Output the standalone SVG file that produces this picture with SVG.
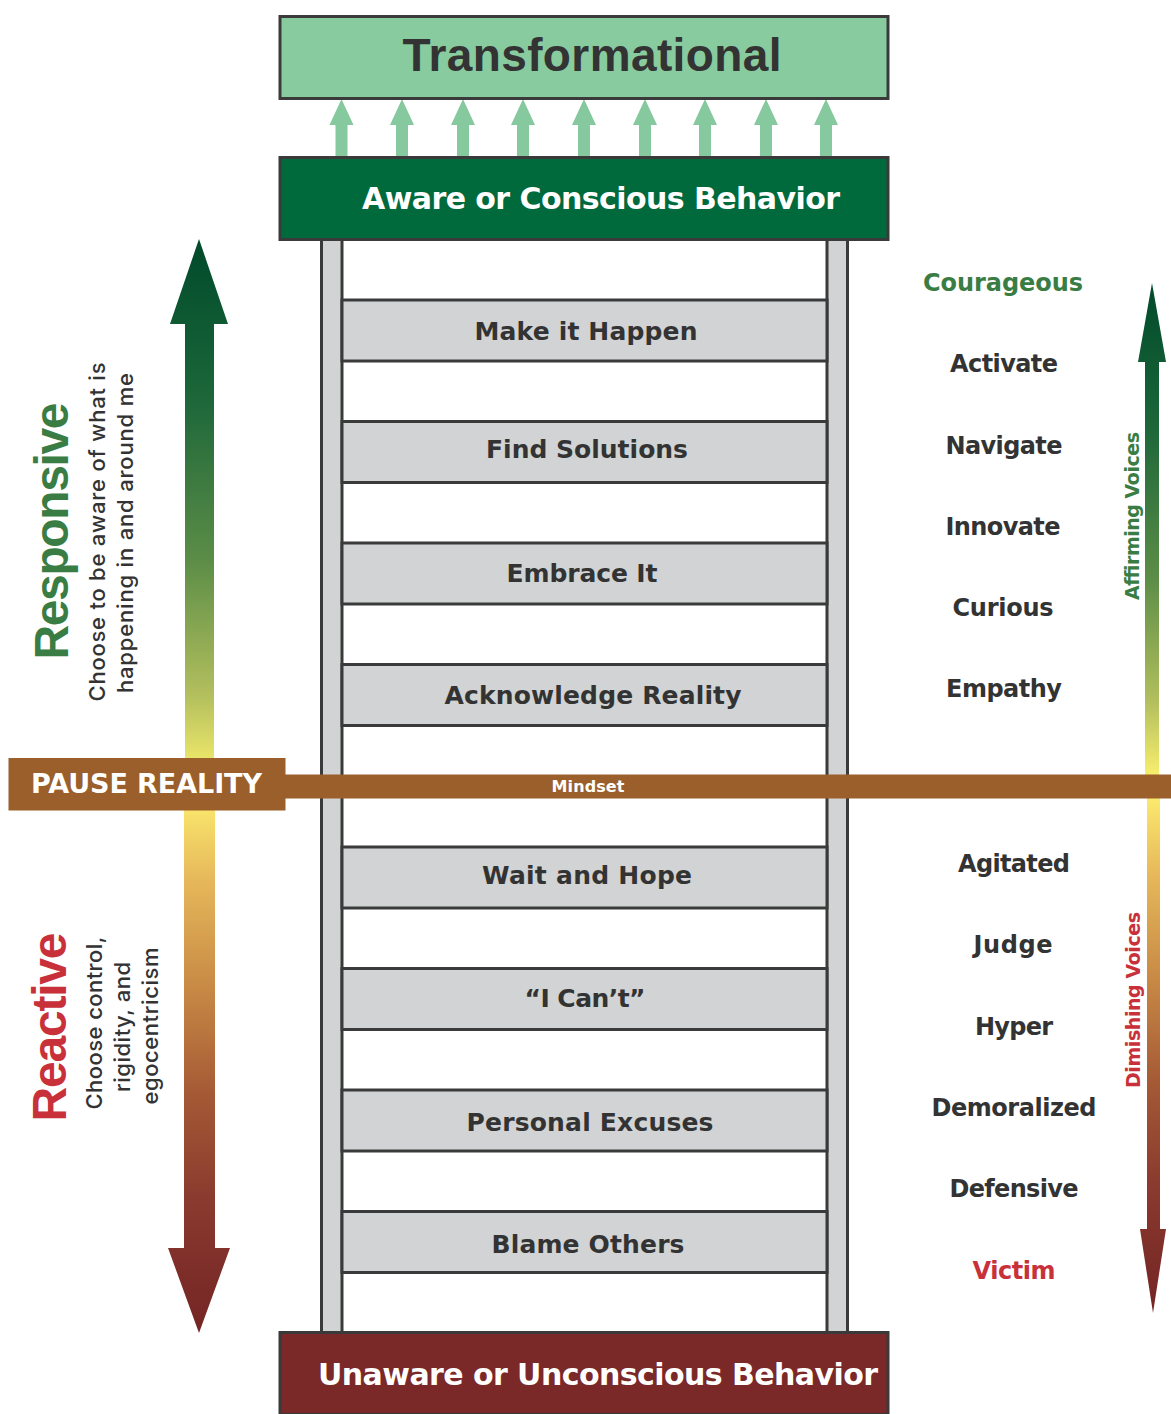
<svg xmlns="http://www.w3.org/2000/svg" width="1171" height="1414" viewBox="0 0 1171 1414">
<style>
.box{stroke:#3a3a3a;stroke-width:3}
.rail{fill:#d1d3d4;stroke:#3a3a3a;stroke-width:3}
.rung{fill:#d1d3d4;stroke:#3a3a3a;stroke-width:3}
.rt{font-family:"DejaVu Sans",sans-serif;font-weight:bold;font-size:25px;fill:#333;text-anchor:middle}
.hd{font-family:"DejaVu Sans",sans-serif;font-weight:bold;font-size:30px;fill:#fff;text-anchor:middle}
.wd{font-family:"DejaVu Sans",sans-serif;font-weight:bold;font-size:24px;fill:#333;text-anchor:middle}
.big{font-family:"Liberation Sans",sans-serif;font-weight:bold;font-size:48px;text-anchor:middle}
.sub{font-family:Inter,"Liberation Sans",sans-serif;font-weight:500;font-size:22px;fill:#333;text-anchor:middle}
.vo{font-family:"DejaVu Sans",sans-serif;font-weight:bold;font-size:19px;text-anchor:middle}
.lg{fill:#86c99e}
</style>
<defs>
<linearGradient id="gUpL" gradientUnits="userSpaceOnUse" x1="0" y1="240" x2="0" y2="775">
<stop offset="0" stop-color="#004a2b"/><stop offset="0.3" stop-color="#1d673a"/><stop offset="0.6" stop-color="#5c8d47"/><stop offset="0.85" stop-color="#b2bf5d"/><stop offset="1" stop-color="#f8ee6d"/>
</linearGradient>
<linearGradient id="gDnL" gradientUnits="userSpaceOnUse" x1="0" y1="800" x2="0" y2="1333">
<stop offset="0" stop-color="#fbe96e"/><stop offset="0.15" stop-color="#e6b85a"/><stop offset="0.35" stop-color="#c88a45"/><stop offset="0.55" stop-color="#a55a35"/><stop offset="0.75" stop-color="#8a3a2e"/><stop offset="1" stop-color="#742424"/>
</linearGradient>
<linearGradient id="gUpR" gradientUnits="userSpaceOnUse" x1="0" y1="283" x2="0" y2="775">
<stop offset="0" stop-color="#004a2b"/><stop offset="0.3" stop-color="#1d673a"/><stop offset="0.6" stop-color="#5c8d47"/><stop offset="0.85" stop-color="#b2bf5d"/><stop offset="1" stop-color="#f8ee6d"/>
</linearGradient>
<linearGradient id="gDnR" gradientUnits="userSpaceOnUse" x1="0" y1="798" x2="0" y2="1313">
<stop offset="0" stop-color="#fbe96e"/><stop offset="0.15" stop-color="#e6b85a"/><stop offset="0.35" stop-color="#c88a45"/><stop offset="0.55" stop-color="#a55a35"/><stop offset="0.75" stop-color="#8a3a2e"/><stop offset="1" stop-color="#742424"/>
</linearGradient>
</defs>
<rect width="1171" height="1414" fill="#fff"/>

<g id="connectors">
<g id="up-arrows" class="lg">
<path d="M335.5 157V125H329.5L341.5 99L353.5 125H347.5V157Z"/>
<path d="M396 157V125H390L402 99L414 125H408V157Z"/>
<path d="M457 157V125H451L463 99L475 125H469V157Z"/>
<path d="M517 157V125H511L523 99L535 125H529V157Z"/>
<path d="M578 157V125H572L584 99L596 125H590V157Z"/>
<path d="M639 157V125H633L645 99L657 125H651V157Z"/>
<path d="M699 157V125H693L705 99L717 125H711V157Z"/>
<path d="M760 157V125H754L766 99L778 125H772V157Z"/>
<path d="M820 157V125H814L826 99L838 125H832V157Z"/>
</g>
<path id="left-up" d="M185 775V324H170L199 239L228 324H214V775Z" fill="url(#gUpL)"/>
<path id="left-down" d="M184 790V1248H168L199 1333L230 1248H215V790Z" fill="url(#gDnL)"/>
<path id="right-up" d="M1145 776V362H1138L1152 283L1166 362H1159V776Z" fill="url(#gUpR)"/>
<path id="right-down" d="M1147 797V1229H1140L1153 1313L1166 1229H1160V797Z" fill="url(#gDnR)"/>
</g>

<g id="ladder">
<rect class="rail" x="321.5" y="238" width="20.5" height="1096"/>
<rect class="rail" x="827" y="238" width="20.5" height="1096"/>
</g>

<g id="rung-make"><rect class="rung" x="342" y="300" width="485" height="61"/><text class="rt" x="586" y="340" textLength="223">Make it Happen</text></g>
<g id="rung-find"><rect class="rung" x="342" y="421.5" width="485" height="61"/><text class="rt" x="587" y="458" textLength="202">Find Solutions</text></g>
<g id="rung-embrace"><rect class="rung" x="342" y="543" width="485" height="61"/><text class="rt" x="582" y="582" textLength="151">Embrace It</text></g>
<g id="rung-acknowledge"><rect class="rung" x="342" y="664.5" width="485" height="61"/><text class="rt" x="593" y="704" textLength="297">Acknowledge Reality</text></g>
<g id="rung-wait"><rect class="rung" x="342" y="847" width="485" height="61"/><text class="rt" x="587" y="884" textLength="210">Wait and Hope</text></g>
<g id="rung-cant"><rect class="rung" x="342" y="968.5" width="485" height="61"/><text class="rt" x="585" y="1007" textLength="121">“I Can’t”</text></g>
<g id="rung-excuses"><rect class="rung" x="342" y="1090" width="485" height="61"/><text class="rt" x="590" y="1131" textLength="247">Personal Excuses</text></g>
<g id="rung-blame"><rect class="rung" x="342" y="1211.5" width="485" height="61"/><text class="rt" x="588" y="1253" textLength="193">Blame Others</text></g>

<g id="transformational">
<rect class="box" x="280" y="16.5" width="608" height="82" fill="#88cb9f"/>
<text x="592" y="71" font-family="Liberation Sans, sans-serif" font-weight="bold" font-size="46" fill="#333" text-anchor="middle" textLength="379">Transformational</text>
</g>
<g id="aware">
<rect class="box" x="280" y="157.5" width="608" height="82" fill="#006a3c"/>
<text class="hd" x="601" y="209" textLength="478">Aware or Conscious Behavior</text>
</g>
<g id="unaware">
<rect class="box" x="280" y="1332.5" width="608" height="82" fill="#7a2828"/>
<text class="hd" x="598" y="1385" textLength="560">Unaware or Unconscious Behavior</text>
</g>

<g id="mindset">
<rect x="285" y="774.5" width="886" height="24" fill="#9a5f2a"/>
<text x="588" y="792" font-family="DejaVu Sans, sans-serif" font-weight="bold" font-size="16" fill="#fff" text-anchor="middle" textLength="73">Mindset</text>
</g>
<g id="pause-reality">
<rect x="8.5" y="758" width="277" height="52.5" fill="#9a5f2a"/>
<text x="146.5" y="793" font-family="DejaVu Sans, sans-serif" font-weight="bold" font-size="27" fill="#fff" text-anchor="middle" textLength="231">PAUSE REALITY</text>
</g>

<g id="responsive">
<text class="big" transform="translate(68,531) rotate(-90)" fill="#3a7d44" textLength="257">Responsive</text>
<text class="sub" transform="translate(105,532) rotate(-90)" textLength="339">Choose to be aware of what is</text>
<text class="sub" transform="translate(133,533) rotate(-90)" textLength="320">happening in and around me</text>
</g>
<g id="reactive">
<text class="big" transform="translate(66,1027) rotate(-90)" fill="#c8313a" textLength="189">Reactive</text>
<text class="sub" transform="translate(102,1023) rotate(-90)" textLength="173">Choose control,</text>
<text class="sub" transform="translate(130,1027) rotate(-90)" textLength="130">rigidity, and</text>
<text class="sub" transform="translate(158,1026) rotate(-90)" textLength="157">egocentricism</text>
</g>

<g id="affirming">
<text class="wd" x="1003" y="291" style="fill:#3a7d44" textLength="160">Courageous</text>
<text class="wd" x="1004" y="372" textLength="108">Activate</text>
<text class="wd" x="1004" y="454" textLength="117">Navigate</text>
<text class="wd" x="1003" y="535" textLength="115">Innovate</text>
<text class="wd" x="1003" y="616" textLength="101">Curious</text>
<text class="wd" x="1004" y="697" textLength="116">Empathy</text>
<text class="vo" transform="translate(1139,516) rotate(-90)" fill="#3a7d44" textLength="168">Affirming Voices</text>
</g>
<g id="diminishing">
<text class="wd" x="1014" y="872" textLength="112">Agitated</text>
<text class="wd" x="1013" y="953" textLength="79">Judge</text>
<text class="wd" x="1014" y="1035" textLength="78">Hyper</text>
<text class="wd" x="1014" y="1116" textLength="165">Demoralized</text>
<text class="wd" x="1014" y="1197" textLength="129">Defensive</text>
<text class="wd" x="1014" y="1279" style="fill:#c8313a" textLength="83">Victim</text>
<text class="vo" transform="translate(1140,1000) rotate(-90)" fill="#c8313a" textLength="176">Dimishing Voices</text>
</g>
</svg>
